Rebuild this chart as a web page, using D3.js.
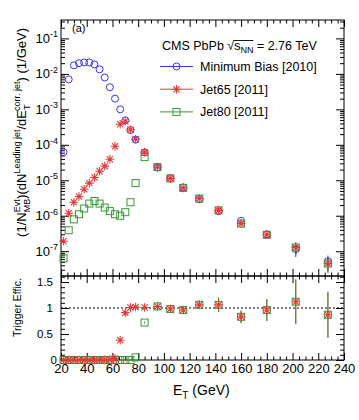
<!DOCTYPE html>
<html>
<head>
<meta charset="utf-8">
<script src="https://cdn.jsdelivr.net/npm/d3@7"></script>
<style>
  body { margin: 0; background: #fff; }
  text { font-family: "Liberation Sans", Arial, sans-serif; fill: #000; }
</style>
</head>
<body>
<div id="chart"></div>
<script>
// bin centres (GeV)
var etBins = [22, 26, 30, 34, 38, 42, 46, 50, 54, 58, 62, 66, 70, 74, 78,
              85, 95, 105, 115, 127.5, 142.5, 160, 180, 202.5, 227.5];

// spectra, (1/N_MB)(dN/dE_T) in 1/GeV
var minBias = [6.2e-5, 7.0e-3, 1.74e-2, 2.0e-2, 2.1e-2, 2.1e-2, 1.85e-2, 1.34e-2, 7.9e-3, 4.2e-3,
               2.0e-3, 1.0e-3, 4.9e-4, 2.6e-4, 1.4e-4, 6.1e-5, 2.3e-5, 1.15e-5, 6.3e-6, 2.9e-6,
               1.34e-6, 7.2e-7, 3.0e-7, 1.14e-7, 5.2e-8];
var jet65 = [1.9e-7, 1.17e-6, 2.4e-6, 3.5e-6, 5.6e-6, 8.3e-6, 1.2e-5, 1.8e-5, 2.5e-5, 3.9e-5,
             9.1e-5, 3.8e-4, 4.6e-4, 2.65e-4, 1.45e-4, 6.2e-5, 2.35e-5, 1.13e-5, 6.1e-6, 3.05e-6,
             1.42e-6, 6.0e-7, 2.9e-7, 1.28e-7, 4.5e-8];
var jet80 = [6.3e-8, 3.9e-7, 7.9e-7, 1.1e-6, 1.6e-6, 2.2e-6, 2.6e-6, 2.2e-6, 1.7e-6, 1.35e-6,
             1.1e-6, 1.0e-6, 1.26e-6, 2.4e-6, 8.3e-6, 4.5e-5, 2.35e-5, 1.13e-5, 6.1e-6, 3.05e-6,
             1.42e-6, 6.0e-7, 2.9e-7, 1.28e-7, 4.5e-8];
// relative stat. errors on the spectra
var spectrumRelErr = [0, 0, 0, 0, 0, 0, 0, 0, 0, 0, 0, 0, 0, 0, 0,
                      0, 0, 0, 0.03, 0.04, 0.06, 0.08, 0.1, 0.4, 0.45];

// trigger efficiencies (ratio to minimum bias)
var effJet65 = [0, 0, 0, 0, 0, 0, 0, 0, 0.002, 0.01, 0.03, 0.38, 0.91, 1.01, 1.02,
                1.01, 1.03, 0.98, 0.96, 1.06, 1.06, 0.83, 0.96, 1.12, 0.87];
var effJet80 = [0, 0, 0, 0, 0, 0, 0, 0, 0, 0, 0, 0, 0, 0, 0.05,
                0.72, 1.03, 0.98, 0.96, 1.06, 1.06, 0.83, 0.96, 1.12, 0.87];
var effErr = [0, 0, 0, 0, 0, 0, 0, 0, 0, 0, 0, 0, 0, 0, 0,
              0.02, 0.04, 0.04, 0.05, 0.08, 0.14, 0.12, 0.21, 0.43, 0.44];

var xTickLabels = [20, 40, 60, 80, 100, 120, 140, 160, 180, 200, 220, 240];
var logTickLabels = [1e-7, 1e-6, 1e-5, 1e-4, 1e-3, 1e-2, 1e-1];
var effTickLabels = [0, 0.5, 1, 1.5];

var blue = '#3535ff', red = '#e8383a', green = '#379a37';

var width = 359, height = 420;
var frame = {left: 61, right: 344, top: 20, mid: 276, bottom: 360};

var svg = d3.select('#chart').append('svg')
    .attr('width', width)
    .attr('height', height);

var x = d3.scaleLinear().domain([20, 240]).range([frame.left, frame.right]);
var yTop = d3.scaleLog().domain([2e-8, 0.33]).range([frame.mid, frame.top]);
var yBot = d3.scaleLinear().domain([0, 1.615]).range([frame.bottom, frame.mid]);

// tick helper: draws inward ticks only, labels done separately
function tickAxis(axisFn, scale, values, size, tx, ty) {
    svg.append('g')
        .attr('transform', 'translate(' + tx + ',' + ty + ')')
        .call(axisFn(scale).tickValues(values).tickSize(-size).tickSizeOuter(0).tickFormat(''))
        .call(function (g) { g.select('.domain').remove(); })
        .selectAll('line').attr('stroke', '#000');
}

var xMajor = xTickLabels;
var xMinor = d3.range(20, 241, 5).filter(function (v) { return v % 20 !== 0; });

var logMinor = [];
d3.range(-8, 0).forEach(function (e) {
    for (var k = 2; k <= 9; k++) {
        var v = k * Math.pow(10, e);
        if (v > 2e-8 && v < 0.33) logMinor.push(v);
    }
});
var effMinor = d3.range(0, 1.61, 0.1).map(function (v) { return +v.toFixed(1); })
    .filter(function (v) { return effTickLabels.indexOf(v) < 0; });

// ---- top panel ticks
tickAxis(d3.axisTop, x, xMajor, 7, 0, frame.top);
tickAxis(d3.axisTop, x, xMinor, 3.5, 0, frame.top);
tickAxis(d3.axisBottom, x, xMajor, 7, 0, frame.mid);
tickAxis(d3.axisBottom, x, xMinor, 3.5, 0, frame.mid);
tickAxis(d3.axisLeft, yTop, logTickLabels, 8, frame.left, 0);
tickAxis(d3.axisLeft, yTop, logMinor, 4, frame.left, 0);
tickAxis(d3.axisRight, yTop, logTickLabels, 8, frame.right, 0);
tickAxis(d3.axisRight, yTop, logMinor, 4, frame.right, 0);

// ---- bottom panel ticks
tickAxis(d3.axisTop, x, xMajor, 7, 0, frame.mid);
tickAxis(d3.axisTop, x, xMinor, 3.5, 0, frame.mid);
tickAxis(d3.axisBottom, x, xMajor, 7, 0, frame.bottom);
tickAxis(d3.axisBottom, x, xMinor, 3.5, 0, frame.bottom);
tickAxis(d3.axisLeft, yBot, effTickLabels, 8, frame.left, 0);
tickAxis(d3.axisLeft, yBot, effMinor, 4, frame.left, 0);
tickAxis(d3.axisRight, yBot, effTickLabels, 8, frame.right, 0);
tickAxis(d3.axisRight, yBot, effMinor, 4, frame.right, 0);

// frames
svg.append('rect')
    .attr('x', frame.left).attr('y', frame.top)
    .attr('width', frame.right - frame.left).attr('height', frame.mid - frame.top)
    .attr('fill', 'none').attr('stroke', '#000');
svg.append('rect')
    .attr('x', frame.left).attr('y', frame.mid)
    .attr('width', frame.right - frame.left).attr('height', frame.bottom - frame.mid)
    .attr('fill', 'none').attr('stroke', '#000');

// x labels (bottom panel)
svg.append('g')
    .attr('transform', 'translate(0,' + frame.bottom + ')')
    .call(d3.axisBottom(x).tickValues(xTickLabels).tickSize(0).tickPadding(4).tickFormat(d3.format('d')))
    .call(function (g) { g.select('.domain').remove(); })
    .selectAll('text')
    .attr('font-size', 13)
    .style('font-family', '"Liberation Sans", Arial, sans-serif');

// log y labels
logTickLabels.forEach(function (v) {
    var t = svg.append('text')
        .attr('x', 58).attr('y', yTop(v) + 4.5)
        .attr('text-anchor', 'end')
        .attr('font-size', 13);
    t.append('tspan').text('10');
    t.append('tspan').attr('dy', -5.5).attr('font-size', 9).text(String(Math.round(Math.log10(v))));
});

// efficiency y labels
effTickLabels.forEach(function (v) {
    svg.append('text')
        .attr('x', v === 0 ? 57 : 53)
        .attr('y', yBot(v) + 4)
        .attr('text-anchor', 'end')
        .attr('font-size', 11.5)
        .text(v);
});

// text with sub/superscripts; parts are [text, kind, back]
function scripted(t, parts, size, small, up, down) {
    var cur = 0, prevW = 0;
    parts.forEach(function (p) {
        var shift = p[1] === 'sup' ? -up : (p[1] === 'sub' ? down : 0);
        var ts = t.append('tspan').text(p[0]).attr('dy', shift - cur)
            .attr('font-size', p[1] ? small : size);
        if (p[2]) ts.attr('dx', -prevW);
        cur = shift;
        prevW = ts.node().getComputedTextLength();
    });
    return t;
}

// y title, top panel
scripted(svg.append('text')
        .attr('text-anchor', 'end')
        .attr('transform', 'translate(26,28) rotate(-90)'),
    [['(1/N'], ['Evt', 'sup'], ['MB', 'sub', true], [')(dN'], ['Leading jet', 'sup'],
     ['/dE'], ['T', 'sub'], ['corr. jet', 'sup', true], [') (1/GeV)']],
    13, 9, 6.5, 3.5);

// y title, bottom panel
svg.append('text')
    .attr('text-anchor', 'end')
    .attr('transform', 'translate(21,278) rotate(-90)')
    .attr('font-size', 10.5)
    .text('Trigger Effic.');

// x title
scripted(svg.append('text')
        .attr('x', 173).attr('y', 395),
    [['E'], ['T', 'sub'], [' (GeV)']], 14, 10, 0, 3.5);

// panel tag
svg.append('text').attr('x', 72).attr('y', 32).attr('font-size', 11).text('(a)');

// dotted unity line
svg.append('line')
    .attr('x1', frame.left).attr('x2', frame.right)
    .attr('y1', yBot(1)).attr('y2', yBot(1))
    .attr('stroke', '#000').attr('stroke-dasharray', '2,2');

// marker shapes
var starPath = (function (s) {
    var a = s * 0.72;
    return 'M' + (-s) + ',0H' + s + 'M0,' + (-s) + 'V' + s +
        'M' + (-a) + ',' + (-a) + 'L' + a + ',' + a + 'M' + (-a) + ',' + a + 'L' + a + ',' + (-a);
})(4.3);

function drawCircle(g, cx, cy, col) {
    g.append('circle').attr('cx', cx).attr('cy', cy).attr('r', 3.5)
        .attr('fill', 'none').attr('stroke', col).attr('stroke-width', 1);
}
function drawSquare(g, cx, cy, col) {
    g.append('rect').attr('x', cx - 3.5).attr('y', cy - 3.5).attr('width', 7).attr('height', 7)
        .attr('fill', 'none').attr('stroke', col).attr('stroke-width', 1);
}
function drawStar(g, cx, cy, col) {
    g.append('path').attr('d', starPath).attr('transform', 'translate(' + cx + ',' + cy + ')')
        .attr('fill', 'none').attr('stroke', col).attr('stroke-width', 1.1);
}

function errBars(g, ys, lo, hi, col) {
    etBins.forEach(function (d, i) {
        if (hi[i] - lo[i] <= 0) return;
        g.append('line')
            .attr('x1', x(d)).attr('x2', x(d))
            .attr('y1', ys(lo[i])).attr('y2', ys(hi[i]))
            .attr('stroke', col).attr('stroke-width', 1);
    });
}

// ---- top panel data
var topG = svg.append('g');
[[minBias, blue], [jet65, red], [jet80, green]].forEach(function (s) {
    var lo = s[0].map(function (v, i) { return v * (1 - spectrumRelErr[i]); });
    var hi = s[0].map(function (v, i) { return v * (1 + spectrumRelErr[i]); });
    errBars(topG, yTop, lo, hi, s[1]);
});
etBins.forEach(function (e, i) { drawCircle(topG, x(e), yTop(minBias[i]), blue); });
etBins.forEach(function (e, i) { drawSquare(topG, x(e), yTop(jet80[i]), green); });
etBins.forEach(function (e, i) { drawStar(topG, x(e), yTop(jet65[i]), red); });

// ---- bottom panel data
var botG = svg.append('g');
[[effJet65, red], [effJet80, green]].forEach(function (s) {
    var lo = s[0].map(function (v, i) { return v - effErr[i]; });
    var hi = s[0].map(function (v, i) { return v + effErr[i]; });
    errBars(botG, yBot, lo, hi, s[1]);
});
etBins.forEach(function (e, i) { drawSquare(botG, x(e), yBot(effJet80[i]), green); });
etBins.forEach(function (e, i) { drawStar(botG, x(e), yBot(effJet65[i]), red); });

// ---- legend
var header = svg.append('text').attr('x', 162).attr('y', 50).attr('font-size', 12.5);
scripted(header, [['CMS PbPb \u221A'], ['s'], ['NN', 'sub'], [' = 2.76 TeV']], 12.5, 9, 0, 3);
// overline of the square root
var hn = header.node();
var sIdx = 'CMS PbPb \u221A'.length;
var rootBox = hn.getExtentOfChar(sIdx - 1);
var endBox = hn.getExtentOfChar(sIdx + 2);
svg.append('line')
    .attr('x1', rootBox.x + rootBox.width - 0.5).attr('x2', endBox.x + endBox.width)
    .attr('y1', rootBox.y + 1.5).attr('y2', rootBox.y + 1.5)
    .attr('stroke', '#000').attr('stroke-width', 0.9);

var legendRows = [
    {label: 'Minimum Bias [2010]', color: blue, mark: drawCircle},
    {label: 'Jet65 [2011]', color: red, mark: drawStar},
    {label: 'Jet80 [2011]', color: green, mark: drawSquare}
];
var leg = svg.append('g');
legendRows.forEach(function (r, i) {
    var by = 71 + i * 22.7;
    leg.append('line').attr('x1', 160).attr('x2', 193).attr('y1', by - 4.5).attr('y2', by - 4.5)
        .attr('stroke', r.color).attr('stroke-width', 1);
    r.mark(leg, 176.5, by - 4.5, r.color);
    leg.append('text').attr('x', 200).attr('y', by).attr('font-size', 12.5).text(r.label);
});
</script>
</body>
</html>
